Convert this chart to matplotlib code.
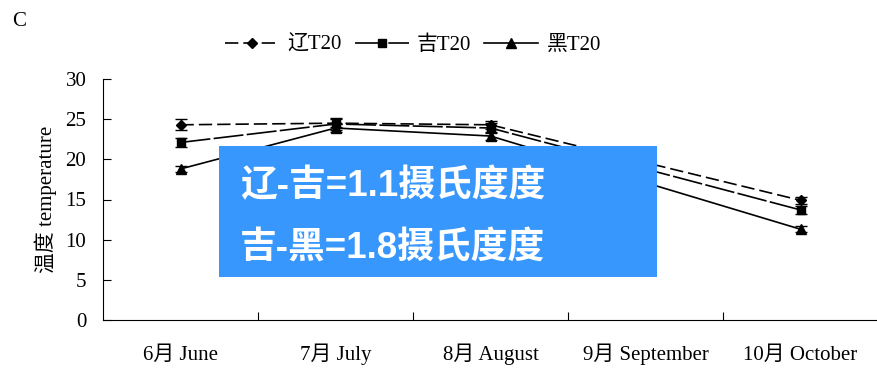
import matplotlib
matplotlib.use("Agg")
import matplotlib.pyplot as plt
from matplotlib.patches import Rectangle
import numpy as np

plt.rcParams['font.family'] = ['Liberation Serif', 'Noto Sans CJK SC']

months = ["6月 June", "7月 July", "8月 August", "9月 September", "10月 October"]
# September has no measurement; lines connect August directly to October
liao = [24.3, 24.5, 24.3, np.nan, 14.9]
ji = [22.1, 24.4, 23.9, np.nan, 13.7]
hei = [18.8, 23.9, 22.9, np.nan, 11.3]
liao_err = [0.7, 0.5, 0.5, np.nan, 0.4]
ji_err = [0.6, 0.7, 0.6, np.nan, 0.5]
hei_err = [0.4, 0.5, 0.5, np.nan, 0.4]
series_names = ["辽T20", "吉T20", "黑T20"]
note_lines = ["辽-吉=1.1摄氏度度", "吉-黑=1.8摄氏度度"]

fig = plt.figure(figsize=(8.77, 3.68), dpi=100)
ax = fig.add_axes([103 / 877, 1 - 320 / 368, 775 / 877, 241 / 368])

x = np.arange(len(months))


def draw(vals, errs, marker, ms, dashes, label):
    v = np.array(vals, dtype=float)
    e = np.array(errs, dtype=float)
    m = ~np.isnan(v)
    line, = ax.plot(x[m], v[m], color='black', lw=1.2, marker=marker, ms=ms,
                    label=label)
    if dashes is not None:
        line.set_dashes(dashes)
    ax.errorbar(x[m], v[m], yerr=e[m], fmt='none', ecolor='black',
                elinewidth=1.0, capsize=4, capthick=1.0)
    return line


draw(liao, liao_err, 'D', 5, (8, 3), series_names[0])
draw(ji, ji_err, 's', 6, (18, 2), series_names[1])
draw(hei, hei_err, '^', 7, None, series_names[2])

ax.set_xlim(-0.5, len(months) - 0.5)
ax.set_ylim(0, 30)
ax.set_yticks(range(0, 31, 5))
ax.set_xticks(np.arange(len(months) - 1) + 0.5)
ax.set_xticklabels([])
ax.set_xticks(x, minor=True)
ax.set_xticklabels(months, minor=True)
ax.tick_params(axis='x', which='minor', length=0, pad=29, labelsize=15)
for lbl in ax.get_xticklabels(minor=True):
    lbl.set_verticalalignment('baseline')
ax.tick_params(axis='x', which='major', direction='in', length=6)
ax.tick_params(axis='y', direction='in', length=6, labelsize=15, pad=12)
for s in ['top', 'right']:
    ax.spines[s].set_visible(False)
ax.set_ylabel("温度 temperature", fontsize=15, labelpad=6)

leg = fig.legend(loc='center', bbox_to_anchor=(413 / 877, 1 - 45 / 368),
                 ncol=3, frameon=False, fontsize=15, handlelength=2.6,
                 handletextpad=0.4, columnspacing=0.6)

fig.text(12 / 877, 1 - 21 / 368, "C", fontsize=15, va='center', ha='left')

# Annotation box with the regional differences
fig.patches.append(Rectangle((219 / 877, 1 - 277 / 368), 438 / 877, 131 / 368,
                             transform=fig.transFigure, facecolor='#3797FD',
                             edgecolor='none', zorder=5))
for i, t in enumerate(note_lines):
    fig.text(240 / 877, 1 - (186 + 62 * i) / 368, t, color='white',
             fontsize=26.5, fontweight='bold', va='center', ha='left',
             family=['Liberation Sans', 'Noto Sans CJK SC'], zorder=6)

fig.savefig("out.png", dpi=100)
